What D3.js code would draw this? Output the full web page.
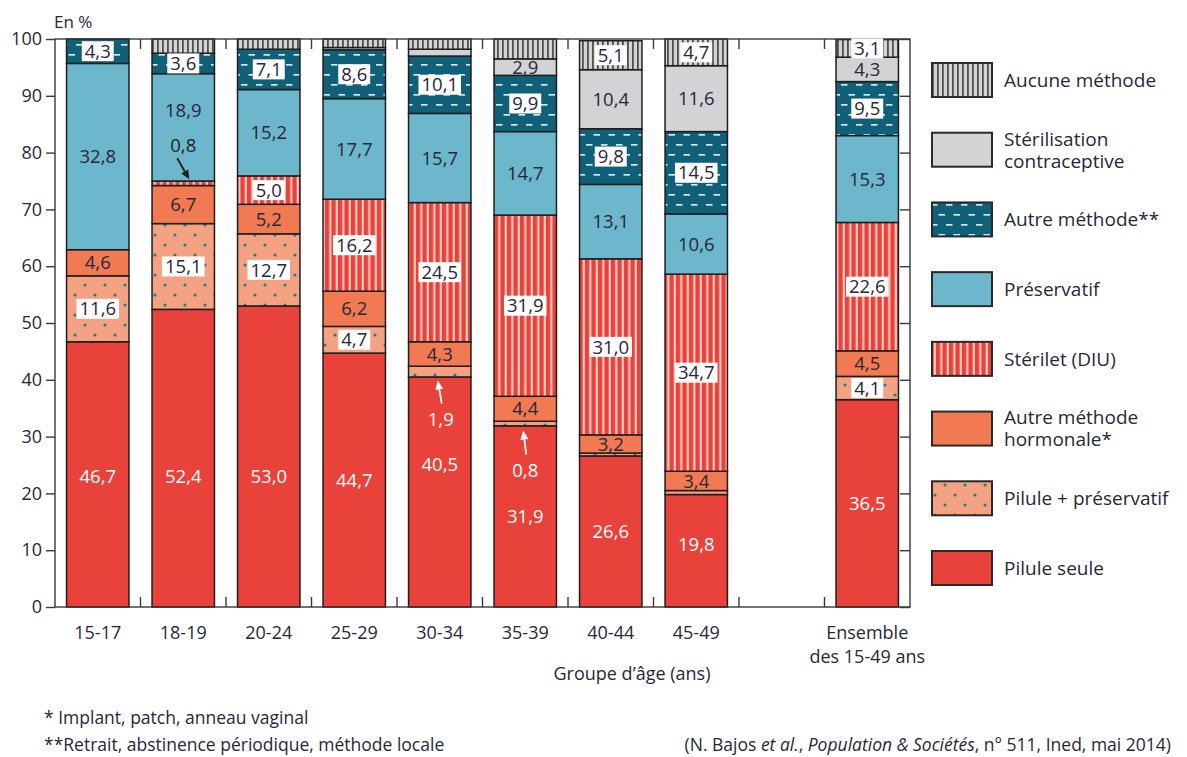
<!DOCTYPE html>
<html lang="fr">
<head>
<meta charset="utf-8">
<script src="https://cdn.jsdelivr.net/npm/d3@7"></script>
<style>
  body { margin: 0; background: #fff; }
  svg { display: block; font-family: "Open Sans", sans-serif; font-weight: 500; }
  text { fill: #27273a; }
</style>
</head>
<body>
<svg id="chart" width="1187" height="757"></svg>
<script>
// age groups, then the overall column
var ageGroups = ["15-17", "18-19", "20-24", "25-29", "30-34", "35-39", "40-44", "45-49"];
var totalGroup = "Ensemble";
var yTicks = [0, 10, 20, 30, 40, 50, 60, 70, 80, 90, 100];

// values in %, one per column (8 age groups + Ensemble), stacked bottom to top
var pilule            = [46.7, 52.4, 53.0, 44.7, 40.5, 31.9, 26.6, 19.8, 36.5];
var pilulePreservatif = [11.6, 15.1, 12.7,  4.7,  1.9,  0.8,  0.5,  0.7,  4.1];
var autreHormonale    = [ 4.6,  6.7,  5.2,  6.2,  4.3,  4.4,  3.2,  3.4,  4.5];
var sterilet          = [ 0.0,  0.8,  5.0, 16.2, 24.5, 31.9, 31.0, 34.7, 22.6];
var preservatif       = [32.8, 18.9, 15.2, 17.7, 15.7, 14.7, 13.1, 10.6, 15.3];
var autreMethode      = [ 4.3,  3.6,  7.1,  8.6, 10.1,  9.9,  9.8, 14.5,  9.5];
var sterilisation     = [ 0.0,  0.0,  0.0,  0.4,  1.2,  2.9, 10.4, 11.6,  4.3];
var aucune            = [ 0.0,  2.5,  1.8,  1.5,  1.8,  3.5,  5.1,  4.7,  3.1];

var seriesKeys = ["pilule", "pilulePreservatif", "autreHormonale", "sterilet",
                  "preservatif", "autreMethode", "sterilisation", "aucune"];
var seriesNames = [["Pilule seule"], ["Pilule + préservatif"], ["Autre méthode", "hormonale*"],
                   ["Stérilet (DIU)"], ["Préservatif"], ["Autre méthode**"],
                   ["Stérilisation", "contraceptive"], ["Aucune méthode"]];

// small segments whose value sits outside the bar, with an arrow
var callouts = [
  {group: "18-19", key: "sterilet", label: [0, -38], tail: [-6, -25], tip: [6, -4], color: "#1e1e1e"},
  {group: "30-34", key: "pilulePreservatif", label: [1, 48], tail: [2, 32], tip: [-2, 9], color: "#fff"},
  {group: "35-39", key: "pilulePreservatif", label: [0, 47], tail: [1, 31], tip: [-2, 7], color: "#fff"}
];
var hiddenLabels = ["35-39|aucune"];
// labels nudged (px) to make room for the callouts
var labelShifts = {"18-19|preservatif": -17, "30-34|pilule": -28};

(function() {
  var svg = d3.select("#chart");
  var frame = {left: 55, right: 910, top: 39, bottom: 607};
  var columns = ageGroups.concat([totalGroup]);
  var slots = ageGroups.concat(["", totalGroup]);
  var valuesByKey = {
    pilule: pilule, pilulePreservatif: pilulePreservatif, autreHormonale: autreHormonale,
    sterilet: sterilet, preservatif: preservatif, autreMethode: autreMethode,
    sterilisation: sterilisation, aucune: aucune
  };
  var fills = {
    pilule: "#e9423a", pilulePreservatif: "url(#pat-pp)", autreHormonale: "#f17a52",
    sterilet: "url(#pat-diu)", preservatif: "#6cb7cc", autreMethode: "url(#pat-autre)",
    sterilisation: "#d2d3d5", aucune: "url(#pat-aucune)"
  };
  var boxed = ["pilulePreservatif", "sterilet", "autreMethode", "aucune"];
  var fmt = function(v) { return d3.format(".1f")(v).replace(".", ","); };

  var rows = columns.map(function(c, i) {
    var row = {group: c};
    seriesKeys.forEach(function(k) { row[k] = valuesByKey[k][i]; });
    return row;
  });
  var stacked = d3.stack().keys(seriesKeys)(rows);

  var x = d3.scaleBand().domain(slots).range([frame.left, frame.right])
    .paddingInner(0.27).paddingOuter(0.135);
  var y = d3.scaleLinear().domain([0, 100]).range([frame.bottom, frame.top]);

  // patterns
  var defs = svg.append("defs");
  var p = defs.append("pattern").attr("id", "pat-aucune").attr("patternUnits", "userSpaceOnUse")
    .attr("width", 5).attr("height", 10);
  p.append("rect").attr("width", 5).attr("height", 10).attr("fill", "#d4d4d4");
  p.append("rect").attr("x", 2).attr("width", 1.8).attr("height", 10).attr("fill", "#505050");

  p = defs.append("pattern").attr("id", "pat-diu").attr("patternUnits", "userSpaceOnUse")
    .attr("width", 6.5).attr("height", 10);
  p.append("rect").attr("width", 6.5).attr("height", 10).attr("fill", "#e9423a");
  p.append("rect").attr("x", 4.3).attr("width", 2).attr("height", 10).attr("fill", "#fcd6cf");

  p = defs.append("pattern").attr("id", "pat-autre").attr("patternUnits", "userSpaceOnUse")
    .attr("width", 15).attr("height", 20);
  p.append("rect").attr("width", 15).attr("height", 20).attr("fill", "#10607a");
  p.append("rect").attr("x", 1).attr("y", 4).attr("width", 6.5).attr("height", 1.7).attr("fill", "#d6e7ec");
  p.append("rect").attr("x", 8.5).attr("y", 14).attr("width", 6.5).attr("height", 1.7).attr("fill", "#d6e7ec");

  p = defs.append("pattern").attr("id", "pat-pp").attr("patternUnits", "userSpaceOnUse")
    .attr("width", 20).attr("height", 20);
  p.append("rect").attr("width", 20).attr("height", 20).attr("fill", "#f4a282");
  p.append("circle").attr("cx", 5).attr("cy", 5).attr("r", 1.6).attr("fill", "#2b7b8c");
  p.append("circle").attr("cx", 15).attr("cy", 15).attr("r", 1.6).attr("fill", "#2b7b8c");

  // bars
  svg.append("g").selectAll("g").data(stacked).join("g")
    .attr("fill", function(d) { return fills[d.key]; })
    .selectAll("rect")
    .data(function(d) { return d.filter(function(s) { return s[1] - s[0] > 0; }); })
    .join("rect")
    .attr("x", function(d) { return x(d.data.group); })
    .attr("width", x.bandwidth())
    .attr("y", function(d) { return y(d[1]); })
    .attr("height", function(d) { return y(d[0]) - y(d[1]); })
    .attr("stroke", "#1e1e1e").attr("stroke-width", 1.5);

  // frame and ticks
  svg.append("rect").attr("x", frame.left).attr("y", frame.top)
    .attr("width", frame.right - frame.left).attr("height", frame.bottom - frame.top)
    .attr("fill", "none").attr("stroke", "#3a3a3a").attr("stroke-width", 1.4);

  var yAxis = svg.append("g").attr("transform", "translate(" + frame.left + ",0)")
    .call(d3.axisLeft(y).tickValues(yTicks).tickSize(9).tickPadding(4));
  yAxis.select(".domain").remove();
  yAxis.selectAll("line").attr("stroke", "#3a3a3a").attr("stroke-width", 1.4);
  yAxis.selectAll("text").attr("font-size", 18).attr("font-family", "Open Sans").style("fill", "#27273a");

  var rAxis = svg.append("g").attr("transform", "translate(" + frame.right + ",0)")
    .call(d3.axisLeft(y).tickValues(yTicks).tickSize(10).tickFormat(""));
  rAxis.select(".domain").remove();
  rAxis.selectAll("line").attr("stroke", "#3a3a3a").attr("stroke-width", 1.4);

  var gap = x.step() - x.bandwidth();
  var bounds = slots.slice(1).map(function(s) { return x(s) - gap / 2; });
  svg.append("g").selectAll("line").data(bounds).join("line")
    .attr("x1", function(d) { return d; }).attr("x2", function(d) { return d; })
    .attr("y1", frame.top).attr("y2", frame.top + 10)
    .attr("stroke", "#3a3a3a").attr("stroke-width", 1.4);
  svg.append("g").selectAll("line").data(bounds).join("line")
    .attr("x1", function(d) { return d; }).attr("x2", function(d) { return d; })
    .attr("y1", frame.bottom).attr("y2", frame.bottom - 10)
    .attr("stroke", "#3a3a3a").attr("stroke-width", 1.4);

  // x labels
  var xl = svg.append("g").attr("font-size", 18);
  ageGroups.forEach(function(g) {
    xl.append("text").attr("x", x(g) + x.bandwidth() / 2).attr("y", 639)
      .attr("text-anchor", "middle").text(g);
  });
  xl.append("text").attr("x", x(totalGroup) + x.bandwidth() / 2).attr("y", 639)
    .attr("text-anchor", "middle").text("Ensemble");
  xl.append("text").attr("x", x(totalGroup) + x.bandwidth() / 2).attr("y", 663)
    .attr("text-anchor", "middle").text("des 15-49 ans");
  xl.append("text").attr("x", 632).attr("y", 680).attr("text-anchor", "middle").text("Groupe d’âge (ans)");
  svg.append("text").attr("x", 54).attr("y", 28).attr("font-size", 17).text("En %");

  // value labels
  var lab = svg.append("g").attr("font-size", 18.5).attr("text-anchor", "middle");
  var isCallout = function(g, k) {
    return callouts.some(function(c) { return c.group === g && c.key === k; });
  };
  stacked.forEach(function(layer) {
    layer.forEach(function(s) {
      var v = s[1] - s[0], g = s.data.group, k = layer.key;
      if (v < 2.9 || hiddenLabels.indexOf(g + "|" + k) >= 0 || isCallout(g, k)) return;
      var mid = (s[0] + s[1]) / 2;
      if (k === "pilule") mid = Math.max(11, Math.min(23, mid));
      var cx = x(g) + x.bandwidth() / 2, cy = y(mid) + (labelShifts[g + "|" + k] || 0);
      var t = lab.append("text").attr("x", cx).attr("y", cy).attr("dy", "0.36em").text(fmt(v));
      if (k === "pilule") t.style("fill", "#fff");
      if (boxed.indexOf(k) >= 0) {
        var w = t.node().getComputedTextLength() + 6;
        lab.insert("rect", function() { return t.node(); })
          .attr("x", cx - w / 2).attr("y", cy - 10).attr("width", w).attr("height", 20)
          .attr("fill", "#fff");
      }
    });
  });

  // callouts with arrows
  callouts.forEach(function(c) {
    var i = columns.indexOf(c.group);
    var layer = stacked[seriesKeys.indexOf(c.key)];
    var s = layer[i];
    var cx = x(c.group) + x.bandwidth() / 2, cy = y((s[0] + s[1]) / 2);
    lab.append("text").attr("x", cx + c.label[0]).attr("y", cy + c.label[1]).attr("dy", "0.36em")
      .style("fill", c.color).text(fmt(s[1] - s[0]));
    var x1 = cx + c.tail[0], y1 = cy + c.tail[1], x2 = cx + c.tip[0], y2 = cy + c.tip[1];
    var a = Math.atan2(y2 - y1, x2 - x1), hl = 9, hw = 4;
    var bx = x2 - hl * Math.cos(a), by = y2 - hl * Math.sin(a);
    svg.append("line").attr("x1", x1).attr("y1", y1).attr("x2", bx).attr("y2", by)
      .attr("stroke", c.color).attr("stroke-width", 1.8);
    svg.append("path")
      .attr("d", "M" + x2 + "," + y2 +
        "L" + (bx + hw * Math.sin(a)) + "," + (by - hw * Math.cos(a)) +
        "L" + (bx - hw * Math.sin(a)) + "," + (by + hw * Math.cos(a)) + "Z")
      .attr("fill", c.color);
  });

  // legend, top to bottom
  var legendKeys = seriesKeys.slice().reverse();
  var ly = d3.scalePoint().domain(legendKeys).range([80, 568]);
  var leg = svg.append("g").attr("font-size", 19);
  legendKeys.forEach(function(k) {
    var cy = ly(k);
    leg.append("rect").attr("x", 932).attr("y", cy - 17).attr("width", 60).attr("height", 34)
      .attr("fill", fills[k]).attr("stroke", "#2a2a2a").attr("stroke-width", 2);
    var lines = seriesNames[seriesKeys.indexOf(k)];
    lines.forEach(function(line, j) {
      leg.append("text").attr("x", 1004)
        .attr("y", cy + (j - (lines.length - 1) / 2) * 22).attr("dy", "0.36em").text(line);
    });
  });

  // notes and source
  var notes = svg.append("g").attr("font-size", 17.5);
  notes.append("text").attr("x", 44).attr("y", 724).text("* Implant, patch, anneau vaginal");
  notes.append("text").attr("x", 44).attr("y", 751).text("**Retrait, abstinence périodique, méthode locale");
  var src = notes.append("text").attr("x", 1171).attr("y", 751).attr("text-anchor", "end");
  src.append("tspan").text("(N. Bajos ");
  src.append("tspan").attr("font-style", "italic").text("et al.");
  src.append("tspan").text(", ");
  src.append("tspan").attr("font-style", "italic").text("Population & Sociétés");
  src.append("tspan").text(", n° 511, Ined, mai 2014)");
})();
</script>
</body>
</html>
